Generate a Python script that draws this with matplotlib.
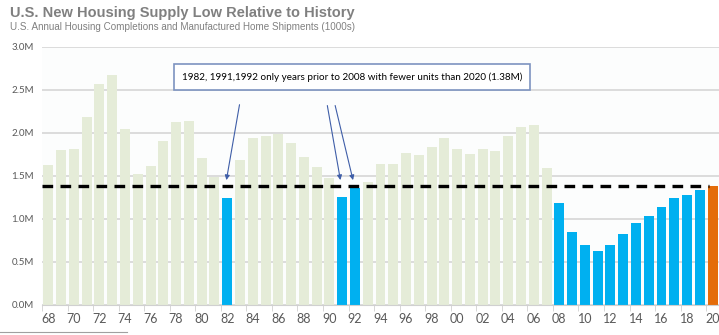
import numpy as np
import matplotlib.pyplot as plt
from matplotlib.lines import Line2D

# U.S. annual housing completions + manufactured home shipments, millions of units
years = list(range(1968, 2021))
units = [1.63, 1.80, 1.81, 2.18, 2.57, 2.67, 2.05, 1.52, 1.62, 1.91,
         2.13, 2.14, 1.71, 1.49, 1.24, 1.68, 1.94, 1.97, 1.99, 1.88,
         1.72, 1.60, 1.48, 1.26, 1.36, 1.43, 1.64, 1.64, 1.77, 1.74,
         1.84, 1.94, 1.81, 1.76, 1.81, 1.79, 1.97, 2.07, 2.09, 1.59,
         1.19, 0.85, 0.70, 0.63, 0.70, 0.82, 0.95, 1.03, 1.14, 1.24,
         1.28, 1.34, 1.38]
level_2020 = 1.38
low_years = [1982, 1991, 1992]
note = "1982, 1991,1992 only years prior to 2008 with fewer units than 2020 (1.38M)"

GREEN = "#e5ecd8"
BLUE = "#00b0f0"
ORANGE = "#e46c0a"
GREY = "#808080"

colors = []
for yr, v in zip(years, units):
    if yr == 2020:
        colors.append(ORANGE)
    elif yr >= 2008 or yr in low_years:
        colors.append(BLUE)
    else:
        colors.append(GREEN)

fig = plt.figure(figsize=(7.19, 3.35), dpi=100)
ax = fig.add_axes([0.0584, 0.0896, 0.9416, 0.7704])
ax.set_facecolor("#fcfdfd")

x = np.arange(len(years))
ax.bar(x, units, width=0.78, color=colors, zorder=2)
ax.plot([-0.5, len(years) - 1.3], [level_2020, level_2020], color="black",
        lw=2.4, ls=(0, (3.2, 2.2)), zorder=3)

ax.set_xlim(-0.5, len(years) - 0.5)
ax.set_ylim(0, 3.0)
ax.set_yticks(np.arange(0, 3.01, 0.5))
ax.set_yticklabels([f"{v:.1f}M" for v in np.arange(0, 3.01, 0.5)],
                   fontsize=7, color="#595959", family="Lato")
ax.yaxis.grid(True, color="#dcdcdc", lw=1.4, zorder=0)
ax.tick_params(axis="y", length=0, pad=6)

ax.set_xticks(x[::2])
ax.set_xticklabels([f"{yr % 100:02d}" for yr in years[::2]],
                   fontsize=9, color="#595959", family="Lato")
ax.set_xticks(np.arange(-0.5, len(years), 2), minor=True)
ax.tick_params(axis="x", which="major", length=0, pad=6)
ax.tick_params(axis="x", which="minor", length=4, color="#d0d0d0")
for s in ["top", "right", "left"]:
    ax.spines[s].set_visible(False)
ax.spines["bottom"].set_color("#d0d0d0")

# callout box and arrows to the low years
ax.text(10.45, 2.65, note, fontsize=7.1, family="Lato", color="black",
        ha="left", va="center",
        bbox=dict(boxstyle="square,pad=0.8", fc="white", ec="#7d93c0", lw=1.2),
        zorder=5)
starts = {1982: (15.0, 2.36), 1991: (21.8, 2.35), 1992: (22.4, 2.35)}
for yr in low_years:
    i = years.index(yr)
    ax.annotate("", xy=(i - 0.1, 1.42), xytext=starts[yr],
                arrowprops=dict(arrowstyle="-|>", color="#3f5ea8", lw=0.8,
                                mutation_scale=7), zorder=4)

fig.text(0.014, 0.962, "U.S. New Housing Supply Low Relative to History",
         fontsize=10.5, fontweight="bold", color=GREY, family="Liberation Sans",
         va="center")
fig.text(0.014, 0.918, "U.S. Annual Housing Completions and Manufactured Home Shipments (1000s)",
         fontsize=7.1, color=GREY, family="Liberation Sans", va="center")
fig.add_artist(Line2D([0, 0.177], [0.009, 0.009], color="#a0a0a0", lw=0.8))

fig.savefig("out.png", dpi=100)
